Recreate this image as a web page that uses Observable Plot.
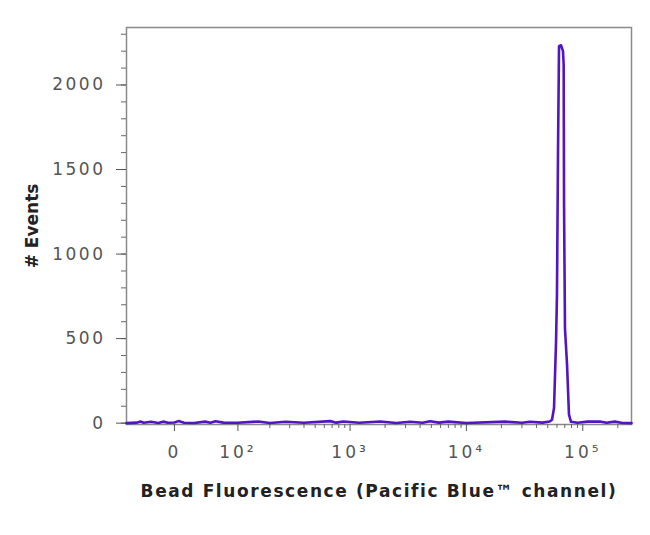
<!DOCTYPE html>
<html>
<head>
<meta charset="utf-8">
<script src="https://cdn.jsdelivr.net/npm/d3@7"></script>
<script src="https://cdn.jsdelivr.net/npm/@observablehq/plot@0.6"></script>
<style>
  html, body { margin: 0; padding: 0; background: #fff; }
  #chart svg { display: block; }
  #chart g[aria-label="y-axis tick label"] text { letter-spacing: 2.5px; }
  #chart g[aria-label="x-axis tick label"] text { letter-spacing: 3px; }
</style>
</head>
<body>
<div id="chart"></div>
<script>
// Histogram channel centres (raw fluorescence units) and event counts
const fluorescence = [-68,-50,-45,-40,-30,-20,-14,-8,0,5,12,25,40,48,56,70,100,157,200,275,400,676,760,874,1200,1817,2500,3290,4200,4880,5800,6960,10000,21500,30000,35300,45000,52000,54400,56600,58900,60000,61250,62500,65000,67600,68500,69000,70300,73200,76100,79200,90000,110000,140000,160000,188600,220000,262144];
const events = [0,3,10,2,8,1,9,2,4,12,2,1,9,2,11,3,2,10,1,8,2,12,3,10,2,10,1,8,2,11,3,9,1,9,2,8,3,10,20,90,480,760,1600,2230,2235,2200,2120,1300,560,350,50,8,2,9,10,2,9,1,0];

// Axis ticks
const xMajorTicks = [0, 100, 1000, 10000, 100000];
const xMajorLabels = ["0", "10²", "10³", "10⁴", "10⁵"];
const xMinorTicks = [200,300,400,500,600,700,800,900,2000,3000,4000,5000,6000,7000,8000,9000,20000,30000,40000,50000,60000,70000,80000,90000,200000];
const yMajorTicks = [0, 500, 1000, 1500, 2000];
const yMinorTicks = d3.range(0, 2301, 100);

const xTitle = "Bead Fluorescence (Pacific Blue™ channel)";
const yTitle = "# Events";

const xDomain = [-68, 262144];
const yDomain = [-8, 2340];

// biexponential-like display transform
const C = 62;
const T = v => Math.asinh(v / C);

const data = fluorescence.map((v, i) => ({v, n: events[i]}));
const labelOf = new Map(xMajorTicks.map((t, i) => [T(t), xMajorLabels[i]]));

const font = "DejaVu Sans, Verdana, sans-serif";

const chart = Plot.plot({
  width: 650,
  height: 535,
  marginLeft: 126,
  marginRight: 19,
  marginTop: 27,
  marginBottom: 111,
  style: {fontFamily: font, background: "#fff"},
  x: {type: "linear", domain: xDomain.map(T)},
  y: {domain: yDomain},
  marks: [
    Plot.frame({stroke: "#8a8a8a", strokeWidth: 1.5}),
    // y axis
    Plot.axisY({ticks: yMinorTicks, tickSize: 5, text: null, stroke: "#666", label: null}),
    Plot.axisY({ticks: yMajorTicks, tickSize: 10, tickPadding: 11, stroke: "#555", fill: "#555",
      fontSize: 17, tickFormat: d => String(d), label: null}),
    // x axis
    Plot.axisX({ticks: xMinorTicks.map(T), tickSize: 4, text: null, stroke: "#666", label: null}),
    Plot.axisX({ticks: xMajorTicks.map(T), tickSize: 7, tickPadding: 14, stroke: "#555", fill: "#555",
      fontSize: 17, tickFormat: t => labelOf.get(t), label: null}),
    // histogram
    Plot.line(data, {x: d => T(d.v), y: "n", stroke: "#5214c4", strokeWidth: 2.6, strokeLinejoin: "round"}),
    // axis titles
    Plot.text([xTitle], {frameAnchor: "bottom", dy: 72, fontSize: 17, fontWeight: "bold", fill: "#222"}),
    Plot.text([yTitle], {frameAnchor: "left", textAnchor: "middle", dx: -94, rotate: -90,
      fontSize: 17, fontWeight: "bold", fill: "#222"})
  ]
});
d3.select(chart).selectAll('g[aria-label="text"] text')
  .attr("letter-spacing", function() { return this.textContent === xTitle ? "1.6px" : "0px"; });
document.getElementById("chart").append(chart);
</script>
</body>
</html>
